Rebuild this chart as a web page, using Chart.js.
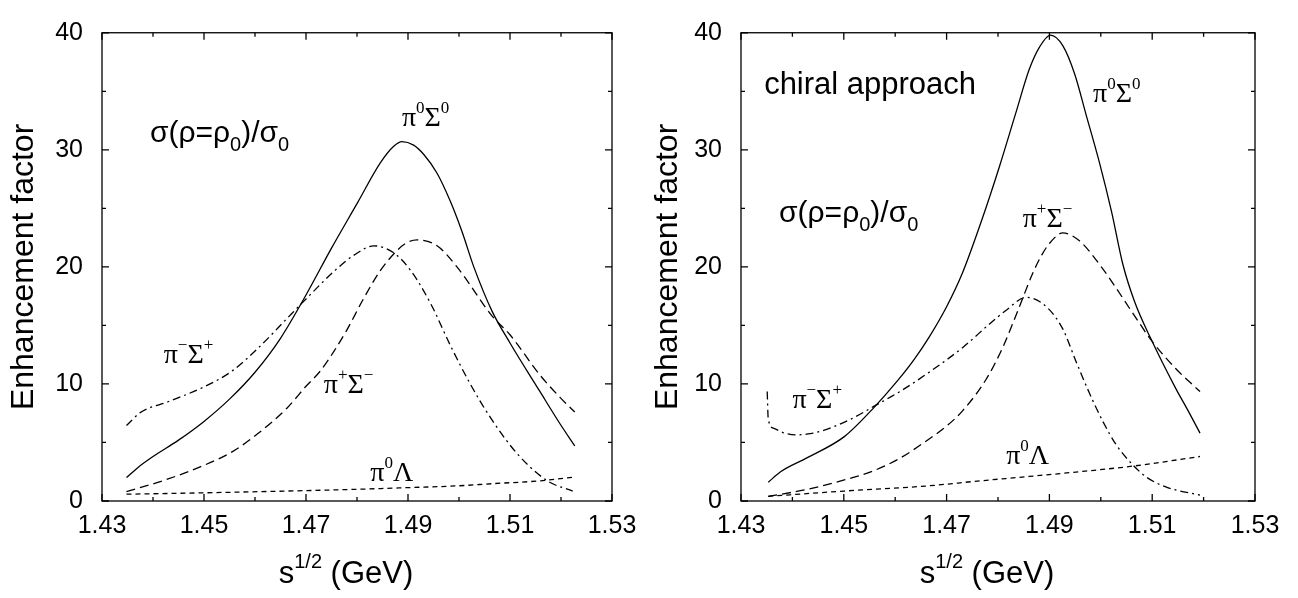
<!DOCTYPE html>
<html lang="en">
<head>
<meta charset="UTF-8">
<title>Enhancement factor</title>
<script src="https://cdn.jsdelivr.net/npm/chart.js"></script>
<style>
  body { margin: 0; background: #fff; }
  .charts { display: flex; width: 1298px; height: 598px; }
  .chart-wrapper { position: relative; width: 649px; height: 598px; }
</style>
</head>
<body>
<div class="charts">
  <div class="chart-wrapper"><canvas id="left-chart"></canvas></div>
  <div class="chart-wrapper"><canvas id="right-chart"></canvas></div>
</div>
<script>
// tick labels (unlabelled ticks in between are minor ticks)
const xTickLabels = ['1.43', '1.45', '1.47', '1.49', '1.51', '1.53'];
const yTickLabels = ['0', '10', '20', '30', '40'];

// left panel: sigma(rho=rho0)/sigma0
const leftPi0Sigma0X = [1.4348, 1.437, 1.44, 1.445, 1.45, 1.455, 1.46, 1.465, 1.47, 1.475, 1.48, 1.4846, 1.4872, 1.4888, 1.4911, 1.4931, 1.4957, 1.4983, 1.5006, 1.5029, 1.5065, 1.51, 1.5158, 1.5198, 1.5227];
const leftPi0Sigma0Y = [2.0, 2.85, 3.8, 5.2, 6.8, 8.7, 11.0, 13.9, 17.6, 21.6, 25.4, 28.9, 30.3, 30.7, 30.4, 29.6, 28.0, 25.6, 23.0, 20.0, 16.2, 13.5, 9.4, 6.6, 4.7];

const leftPiPSigmaMX = [1.4348, 1.4424, 1.45, 1.4555, 1.4607, 1.4663, 1.47, 1.4728, 1.4755, 1.478, 1.4813, 1.4846, 1.4872, 1.4895, 1.4918, 1.4957, 1.4996, 1.5065, 1.51, 1.5158, 1.5198, 1.5227];
const leftPiPSigmaMY = [0.8, 1.8, 3.05, 4.2, 5.8, 7.95, 9.8, 11.1, 12.8, 14.6, 17.3, 19.7, 21.1, 22.0, 22.3, 21.8, 20.0, 15.8, 14.2, 10.8, 8.85, 7.6];

const leftPiMSigmaPX = [1.4348, 1.4375, 1.4431, 1.45, 1.4555, 1.4607, 1.4663, 1.4692, 1.4757, 1.4794, 1.4833, 1.4872, 1.4905, 1.4944, 1.4983, 1.5022, 1.5065, 1.5117, 1.5174, 1.5223];
const leftPiMSigmaPY = [6.45, 7.55, 8.5, 9.75, 11.1, 13.1, 15.6, 16.9, 19.7, 21.0, 21.8, 21.2, 19.7, 16.9, 13.3, 10.0, 6.9, 3.9, 1.7, 0.85];

const leftPi0LambdaX = [1.4348, 1.45, 1.4663, 1.48, 1.4892, 1.5, 1.5065, 1.5158, 1.5227];
const leftPi0LambdaY = [0.58, 0.7, 0.85, 1.0, 1.13, 1.3, 1.48, 1.72, 2.05];

// right panel: chiral approach
const rightPi0Sigma0X = [1.4353, 1.4377, 1.4429, 1.4501, 1.4559, 1.4605, 1.4637, 1.4666, 1.47, 1.4731, 1.477, 1.4803, 1.4835, 1.4861, 1.4881, 1.4902, 1.4926, 1.4949, 1.4972, 1.4998, 1.5021, 1.5043, 1.5066, 1.5097, 1.5146, 1.517, 1.5193];
const rightPi0Sigma0Y = [1.6, 2.5, 3.7, 5.5, 8.0, 10.3, 12.1, 14.0, 16.6, 19.5, 24.2, 28.6, 33.2, 36.9, 38.8, 39.8, 38.9, 36.5, 32.9, 28.8, 24.7, 20.2, 17.0, 13.9, 9.6, 7.7, 5.8];

const rightPiPSigmaMX = [1.4353, 1.4429, 1.4501, 1.4559, 1.4611, 1.4666, 1.47, 1.4731, 1.4777, 1.4809, 1.4839, 1.4868, 1.4885, 1.49, 1.4926, 1.4959, 1.5001, 1.5066, 1.5097, 1.5146, 1.5193];
const rightPiPSigmaMY = [0.39, 1.0, 1.8, 2.6, 3.7, 5.3, 6.4, 7.7, 10.4, 13.1, 16.3, 19.5, 21.0, 22.0, 22.9, 22.2, 20.0, 15.8, 13.8, 11.3, 9.35];

const rightPiMSigmaPX = [1.4351, 1.4353, 1.4364, 1.4385, 1.4407, 1.4435, 1.4462, 1.4514, 1.4559, 1.4611, 1.4666, 1.4731, 1.4783, 1.4816, 1.4855, 1.4894, 1.4926, 1.4952, 1.4978, 1.5004, 1.503, 1.5063, 1.509, 1.513, 1.5193];
const rightPiMSigmaPY = [9.35, 7.0, 6.2, 5.8, 5.65, 5.75, 6.05, 7.0, 8.1, 9.4, 11.0, 13.1, 15.1, 16.3, 17.4, 16.6, 14.7, 11.9, 9.2, 6.8, 4.8, 3.05, 2.0, 1.15, 0.5];

const rightPi0LambdaX = [1.4353, 1.4501, 1.4666, 1.476, 1.4861, 1.497, 1.5066, 1.5193];
const rightPi0LambdaY = [0.4, 0.85, 1.3, 1.7, 2.1, 2.55, 3.0, 3.8];

const SANS = '"Liberation Sans", Arial, sans-serif';
const SERIF = '"Liberation Serif", "Times New Roman", serif';

// line styles
const SOLID = [];
const LONG_DASH = [9, 5];
const SHORT_DASH = [5, 4];
const DASH_DOT = [8, 4, 2, 4];

function pairs(xs, ys) {
    return xs.map((x, i) => ({ x: x, y: ys[i] }));
}

// text made of runs: particle labels like pi^0 Sigma^0
function piLabel(sup1, base, sup2) {
    return [
        { t: 'π', font: '28px ' + SERIF },
        { t: sup1, font: '17px ' + SERIF, dy: -13 },
        { t: base, font: '28px ' + SERIF },
        { t: sup2, font: '17px ' + SERIF, dy: -13 }
    ];
}
const ratioLabel = [
    { t: 'σ(ρ=ρ', font: '30px ' + SANS },
    { t: '0', font: '20px ' + SANS, dy: 9 },
    { t: ')/σ', font: '30px ' + SANS },
    { t: '0', font: '20px ' + SANS, dy: 9 }
];
const xTitle = [
    { t: 's', font: '31px ' + SANS },
    { t: '1/2', font: '20px ' + SANS, dy: -15 },
    { t: ' (GeV)', font: '31px ' + SANS }
];

function drawRuns(ctx, runs, x, y) {
    let cx = x;
    runs.forEach(r => {
        ctx.font = r.font;
        ctx.fillText(r.t, cx, y + (r.dy || 0));
        cx += ctx.measureText(r.t).width;
    });
}
function runsWidth(ctx, runs) {
    let w = 0;
    runs.forEach(r => { ctx.font = r.font; w += ctx.measureText(r.t).width; });
    return w;
}

// box around the plot with inward ticks on all four sides
const framePlugin = {
    id: 'frame',
    afterDatasetsDraw(chart) {
        const { ctx, chartArea: a, scales: { x, y } } = chart;
        ctx.save();
        ctx.strokeStyle = '#000';
        ctx.lineWidth = 1.3;
        ctx.setLineDash([]);
        ctx.strokeRect(a.left, a.top, a.right - a.left, a.bottom - a.top);
        ctx.beginPath();
        x.ticks.forEach(t => {
            const px = x.getPixelForValue(t.value);
            const len = xTickLabels.includes(t.value.toFixed(2)) ? 7 : 4;
            ctx.moveTo(px, a.bottom); ctx.lineTo(px, a.bottom - len);
            ctx.moveTo(px, a.top); ctx.lineTo(px, a.top + len);
        });
        y.ticks.forEach(t => {
            const py = y.getPixelForValue(t.value);
            const len = yTickLabels.includes(String(t.value)) ? 7 : 4;
            ctx.moveTo(a.left, py); ctx.lineTo(a.left + len, py);
            ctx.moveTo(a.right, py); ctx.lineTo(a.right - len, py);
        });
        ctx.stroke();
        ctx.restore();
    }
};

function makeNotesPlugin(notes) {
    return {
        id: 'notes',
        afterDraw(chart) {
            const { ctx, chartArea: a, scales: { x, y } } = chart;
            ctx.save();
            ctx.fillStyle = '#000';
            ctx.textAlign = 'left';
            ctx.textBaseline = 'alphabetic';
            notes.forEach(n => drawRuns(ctx, n.runs, x.getPixelForValue(n.x), y.getPixelForValue(n.y)));
            const w = runsWidth(ctx, xTitle);
            drawRuns(ctx, xTitle, (a.left + a.right) / 2 - 11 - w / 2, 583);
            ctx.restore();
        }
    };
}

function createPanel(canvasId, series, notes, box) {
    return new Chart(document.getElementById(canvasId), {
        type: 'line',
        data: {
            datasets: series.map(s => ({
                data: pairs(s.x, s.y),
                borderColor: '#000',
                borderWidth: 1.3,
                borderDash: s.dash,
                pointRadius: 0,
                fill: false,
                cubicInterpolationMode: 'monotone'
            }))
        },
        options: {
            responsive: true,
            maintainAspectRatio: false,
            animation: false,
            layout: { padding: { top: 14, right: box.right, left: 0, bottom: 0 } },
            plugins: { legend: { display: false }, tooltip: { enabled: false } },
            scales: {
                x: {
                    type: 'linear', min: 1.43, max: 1.53,
                    grid: { display: false, drawTicks: false },
                    border: { display: false },
                    ticks: {
                        stepSize: 0.01, autoSkip: false, maxRotation: 0, padding: 11,
                        color: '#000', font: { family: SANS, size: 25, lineHeight: 1.1 },
                        callback: v => xTickLabels.includes(v.toFixed(2)) ? v.toFixed(2) : ''
                    },
                    afterFit: s => { s.height = 97; }
                },
                y: {
                    type: 'linear', min: 0, max: 40,
                    grid: { display: false, drawTicks: false },
                    border: { display: false },
                    title: {
                        display: true, text: 'Enhancement factor', color: '#000',
                        font: { family: SANS, size: 32 }, padding: { top: box.titlePad, bottom: 0 }
                    },
                    ticks: {
                        stepSize: 5, autoSkip: false, padding: 19,
                        color: '#000', font: { family: SANS, size: 25, lineHeight: 1.1 },
                        callback: v => yTickLabels.includes(String(v)) ? String(v) : ''
                    },
                    afterFit: s => { s.width = box.left; }
                }
            }
        },
        plugins: [framePlugin, makeNotesPlugin(notes)]
    });
}

createPanel('left-chart', [
    { x: leftPi0Sigma0X, y: leftPi0Sigma0Y, dash: SOLID },
    { x: leftPiPSigmaMX, y: leftPiPSigmaMY, dash: LONG_DASH },
    { x: leftPiMSigmaPX, y: leftPiMSigmaPY, dash: DASH_DOT },
    { x: leftPi0LambdaX, y: leftPi0LambdaY, dash: SHORT_DASH }
], [
    { runs: ratioLabel, x: 1.4394, y: 30.7 },
    { runs: piLabel('0', 'Σ', '0'), x: 1.4888, y: 32.07 },
    { runs: piLabel('−', 'Σ', '+'), x: 1.4421, y: 11.81 },
    { runs: piLabel('+', 'Σ', '−'), x: 1.4735, y: 9.2 },
    { runs: piLabel('0', 'Λ', ''), x: 1.4826, y: 1.67 }
], { left: 102, right: 37, titlePad: 5 });

createPanel('right-chart', [
    { x: rightPi0Sigma0X, y: rightPi0Sigma0Y, dash: SOLID },
    { x: rightPiPSigmaMX, y: rightPiPSigmaMY, dash: LONG_DASH },
    { x: rightPiMSigmaPX, y: rightPiMSigmaPY, dash: DASH_DOT },
    { x: rightPi0LambdaX, y: rightPi0LambdaY, dash: SHORT_DASH }
], [
    { runs: [{ t: 'chiral approach', font: '31px ' + SANS }], x: 1.4345, y: 34.8 },
    { runs: ratioLabel, x: 1.4374, y: 23.85 },
    { runs: piLabel('0', 'Σ', '0'), x: 1.4985, y: 34.12 },
    { runs: piLabel('+', 'Σ', '−'), x: 1.4848, y: 23.44 },
    { runs: piLabel('−', 'Σ', '+'), x: 1.44, y: 7.97 },
    { runs: piLabel('0', 'Λ', ''), x: 1.4816, y: 3.18 }
], { left: 92, right: 43, titlePad: 0 });
</script>
</body>
</html>
